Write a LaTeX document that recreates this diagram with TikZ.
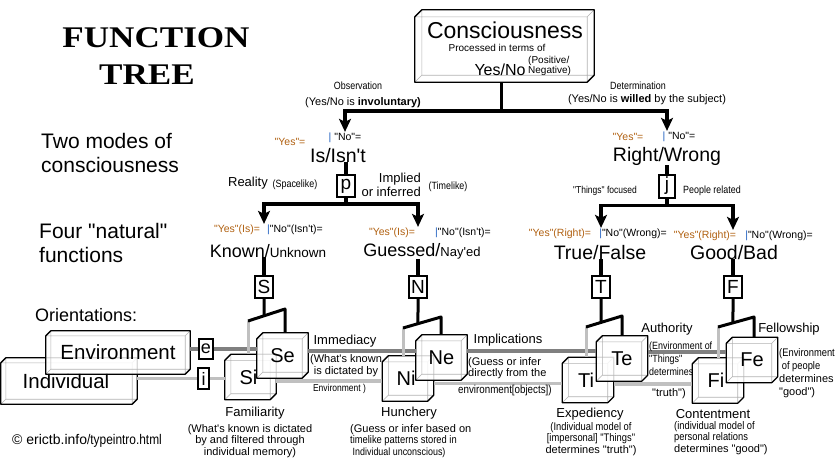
\documentclass[tikz,border=0pt]{standalone}
\usepackage{fontspec}
\setmainfont{Liberation Sans}[Ligatures=TeXOff]
\newfontfamily\titlefont[FakeStretch=1.17]{Liberation Serif}
\newfontfamily\nar[FakeStretch=0.85, Ligatures=TeXOff]{Liberation Sans}
\usepackage{tikz}
\usetikzlibrary{arrows.meta, positioning, calc}
\definecolor{yescol}{RGB}{176,96,16}
\definecolor{barcol}{RGB}{32,96,192}
\definecolor{envgray}{RGB}{128,128,128}
\definecolor{indgray}{RGB}{192,192,192}

\begin{document}
\begin{tikzpicture}[
        x=1pt, y=-1pt,
        treeline/.style={line width=3.5pt},
        arrow/.style={line width=3.5pt, -{Stealth[length=13pt, width=12pt, inset=3pt]}},
        fork/.style={line width=3pt, line join=round},
        lowfork/.style={line width=3pt, indgray},
        envline/.style={line width=3.5pt, envgray},
        indline/.style={line width=3.5pt, indgray},
        letter/.style={rectangle, draw, line width=2pt, fill=white, minimum width=18pt, minimum height=22pt, inner sep=0pt, font=\fontsize{19}{19}\selectfont},
        orient/.style={rectangle, draw, line width=1.2pt, fill=white, minimum width=14pt, minimum height=20pt, inner sep=0pt, font=\fontsize{18}{18}\selectfont},
        word/.style={inner sep=0pt, anchor=base, font=\fontsize{19.5}{19.5}\selectfont},
        yeslab/.style={inner sep=1pt, text=yescol, font=\fontsize{10.5}{10.5}\selectfont},
        nolab/.style={inner sep=1pt, font=\fontsize{10.5}{10.5}\selectfont},
        head/.style={inner sep=0pt, anchor=north west, align=left, font=\fontsize{21}{24}\selectfont},
        fname/.style={inner sep=0pt, font=\fontsize{13}{13}\selectfont},
        note/.style={inner sep=0pt, align=center, font=\fontsize{11}{11.5}\selectfont},
        small/.style={inner sep=0pt, font=\nar\fontsize{10.5}{10.5}\selectfont},
        cube/.style={inner sep=0pt, minimum width=51pt, minimum height=45pt, font=\fontsize{20}{20}\selectfont,
            append after command={\pgfextra{\let\cubenm\tikzlastnode\pgfinterruptpath
                \fill[white, fill opacity=0.85] (\cubenm.south west) -- ([yshift=-#1pt]\cubenm.north west) -- ([xshift=#1pt]\cubenm.north west) -- (\cubenm.north east) -- ([yshift=#1pt]\cubenm.south east) -- ([xshift=-#1pt]\cubenm.south east) -- cycle;
                \draw[black!30, line width=0.6pt] ([yshift=-#1pt]\cubenm.north west) -- ([shift={(-#1pt,-#1pt)}]\cubenm.north east) -- ([xshift=-#1pt]\cubenm.south east)
                    ([shift={(-#1pt,-#1pt)}]\cubenm.north east) -- (\cubenm.north east)
                    ([xshift=#1pt]\cubenm.north west) -- ([shift={(#1pt,#1pt)}]\cubenm.south west) -- ([yshift=#1pt]\cubenm.south east)
                    (\cubenm.south west) -- ([shift={(#1pt,#1pt)}]\cubenm.south west);
                \draw[line width=1.3pt, line join=round] (\cubenm.south west) -- ([yshift=-#1pt]\cubenm.north west) -- ([xshift=#1pt]\cubenm.north west) -- (\cubenm.north east) -- ([yshift=#1pt]\cubenm.south east) -- ([xshift=-#1pt]\cubenm.south east) -- cycle;
                \endpgfinterruptpath}}}
    ]
        \useasboundingbox (0,0) rectangle (837,464);

        \node[inner sep=0pt, font=\titlefont\bfseries\fontsize{30}{30}\selectfont] (function) at (156,38) {FUNCTION};
        \node[inner sep=0pt, font=\titlefont\bfseries\fontsize{30}{30}\selectfont] (treetitle) at (147,75) {TREE};
        \node[head] (twomodes) at (41,133) {Two modes of\\consciousness};
        \node[head] (fourfun) at (39,223) {Four "natural"\\functions};
        \node[head, font=\fontsize{18}{18}\selectfont] (orientations) at (35,308) {Orientations:};

        \node[cube=7, minimum width=179pt, minimum height=72pt] (cons) at (504.5,46) {};
        \node[inner sep=0pt, font=\fontsize{23}{23}\selectfont] (constitle) at (505,30) {Consciousness};
        \node[inner sep=0pt, font=\fontsize{10}{10}\selectfont] (processed) at (497,48) {Processed in terms of};
        \node[inner sep=0pt, font=\fontsize{16}{16}\selectfont] (yesno) at (500,70) {Yes/No};
        \node[inner sep=0pt, align=left, anchor=west, font=\fontsize{10}{10}\selectfont] (posneg) at (528,66) {(Positive/\\Negative)};

        \node[small] (observation) at (358,86) {Observation};
        \node[inner sep=0pt, font=\fontsize{11}{11}\selectfont] (involuntary) at (363,103) {(Yes/No is \textbf{involuntary)}};
        \node[small] (determination) at (638,86) {Determination};
        \node[inner sep=0pt, font=\fontsize{11}{11}\selectfont] (willed) at (647,100) {(Yes/No is \textbf{willed} by the subject)};

        \node[yeslab] (isyes) at (290,142) {"Yes"=};
        \node[nolab] (isno) at (345,138) {\textcolor{barcol}{|} "No"=};
        \node[word] (isnt) at (338,162) {Is/Isn't};
        \node[yeslab] (rwyes) at (628,137) {"Yes"=};
        \node[nolab] (rwno) at (679,137) {\textcolor{barcol}{|} "No"=};
        \node[word] (rw) at (667,161) {Right/Wrong};

        \node[letter] (p) at (346,186) {p};
        \node[letter, minimum width=16pt, minimum height=23pt] (j) at (667,186) {j};
        \node[fname] (reality) at (248,183) {Reality};
        \node[small] (spacelike) at (295,185) {(Spacelike)};
        \node[fname, align=right, anchor=east, font=\fontsize{13}{14}\selectfont] (implied) at (421,185) {Implied\\or inferred};
        \node[small] (timelike) at (448,187) {(Timelike)};
        \node[small, font=\nar\fontsize{10}{10}\selectfont] (thingsfocused) at (605,191) {"Things" focused};
        \node[small] (peoplerelated) at (712,191) {People related};

        \node[yeslab] (knyes) at (237,230) {"Yes"(Is)=};
        \node[nolab] (knno) at (295,230) {\textcolor{barcol}{|}"No"(Isn't)=};
        \node[word, font=\fontsize{18}{18}\selectfont] (known) at (268,257) {Known/{\fontsize{13.5}{13.5}\selectfont Unknown}};
        \node[yeslab] (guyes) at (392,233) {"Yes"(Is)=};
        \node[nolab] (guno) at (463,233) {\textcolor{barcol}{|}"No"(Isn't)=};
        \node[word, font=\fontsize{18}{18}\selectfont] (guessed) at (422,256) {Guessed/{\fontsize{13}{13}\selectfont Nay'ed}};
        \node[yeslab] (tfyes) at (560,234) {"Yes"(Right)=};
        \node[nolab] (tfno) at (633,234) {\textcolor{barcol}{|}"No"(Wrong)=};
        \node[word] (truefalse) at (600,259) {True/False};
        \node[yeslab] (gbyes) at (705,236) {"Yes"(Right)=};
        \node[nolab] (gbno) at (779,236) {\textcolor{barcol}{|}"No"(Wrong)=};
        \node[word] (goodbad) at (734,259) {Good/Bad};

        \node[letter] (S) at (264,287) {S};
        \node[letter] (N) at (418,287) {N};
        \node[letter] (T) at (601,287) {T};
        \node[letter] (F) at (733,287) {F};

        \coordinate (trunk) at ($(cons.south)+(-3,29)$);
        \draw[treeline] (cons.south -| trunk) -- (trunk);
        \draw[arrow] (trunk) -| (isno.north);
        \draw[arrow] (trunk) -| (rw.north |- rwno.north);
        \draw[treeline] (p.north |- isnt.south) -- (p.north);
        \draw[treeline] (j.north |- rw.south) -- (j.north);
        \draw[treeline] (p.south) -- ++(0,6) coordinate (pfork);
        \draw[treeline] (j.south) -- ++(0,7) coordinate (jfork);
        \draw[arrow] (pfork) -| (S.north |- knno.north);
        \draw[arrow] (pfork) -| (N.north |- guno.north);
        \draw[arrow] (jfork) -| (T.north |- tfno.north);
        \draw[arrow] (jfork) -| (F.north |- gbno.north);
        \foreach \f/\w in {S/known, N/guessed, T/truefalse, F/goodbad}
            \draw[treeline] (\f.north |- \w.south) -- (\f.north);

        \node[cube=5, minimum width=136pt, minimum height=46pt, font=\fontsize{20.5}{20.5}\selectfont] (individual) at (69,381) {Individual\kern6pt};
        \node[cube=5, minimum width=144pt, minimum height=43pt, font=\fontsize{20.5}{20.5}\selectfont] (environment) at (118,352.5) {Environment};
        \node[orient] (e) at (206,349) {e};
        \node[orient, minimum width=11pt, minimum height=21pt] (i) at (203.5,378.5) {i};

        \node[cube=6] (Si) at (250.5,377) {Si\kern4pt};
        \node[cube=6] (Se) at (282.5,355.5) {Se};
        \node[cube=6] (Ni) at (408,378.5) {Ni\kern4pt};
        \node[cube=6] (Ne) at (441.5,357.5) {Ne};
        \node[cube=6] (Ti) at (588,380) {Ti\kern4pt};
        \node[cube=6] (Te) at (622,358.5) {Te};
        \node[cube=6] (Fi) at (718,380.5) {Fi\kern4pt};
        \node[cube=6] (Fe) at (752,360) {Fe};

        \draw[envline] (e.west -| environment.east) -- (e.west);
        \draw[envline] (e.east) -- (e.east -| Se.west);
        \draw[indline] (i.west -| individual.east) -- (i.west);
        \draw[indline] (i.east) -- (i.east -| Si.west);
        \foreach \from/\to/\dy/\sty in {Se/Ne/4.5/envline, Ne/Te/6.5/envline, Te/Fe/6.5/envline, Si/Ni/-4/indline, Ni/Ti/-5/indline, Ti/Fi/-4/indline}
            \draw[\sty] ([yshift=\dy pt]\from.east) coordinate (link) -- (link -| \to.west);

        \foreach \f/\ax/\ay/\bx/\by in {S/248/321/285/309, N/403/328/441/317, T/586/327/622/316, F/718/327/754/317}
            {\coordinate (\f-a) at (\ax,\ay); \coordinate (\f-b) at (\bx,\by);}
        \foreach \f/\up/\lo in {S/Se/Si, N/Ne/Ni, T/Te/Ti, F/Fe/Fi} {
            \draw[lowfork] (\f-a) -- (\f-a |- \lo.north);
            \draw[fork] (\f.south) -- (intersection of \f.north--\f.south and \f-a--\f-b);
            \draw[fork] (\f-a) -- (\f-b) -- (\f-b |- \up.north);
        }

        \node[fname] (immediacy) at (345,341) {Immediacy};
        \node[note] (immnote) at (346,365.5) {(What's known\\is dictated by};
        \node[small, font=\nar\fontsize{10}{10}\selectfont] (immnote2) at (339.5,388.5) {Environment )};
        \node[fname] (familiarity) at (255,413) {Familiarity};
        \node[note] (famnote) at (250,441) {(What's known is dictated\\by and filtered through\\individual memory)};
        \node[fname] (hunchery) at (409,413) {Hunchery};
        \node[note, align=left, anchor=west] (hunnote) at (350,441) {(Guess or infer based on\\{\nar timelike patterns stored in}\\{\nar\fontsize{10.5}{11.5}\selectfont\ Individual unconscious)}};
        \node[fname] (implications) at (508,340) {Implications};
        \node[note, align=left, anchor=west] (impnote) at (468,368) {(Guess or infer\\directly from the};
        \node[small, anchor=west, font=\nar\fontsize{11.5}{11.5}\selectfont] (impnote2) at (458,391) {environment[objects])};
        \node[fname] (authority) at (667,329) {Authority};
        \node[small, align=left, anchor=west, font=\nar\fontsize{10.5}{13}\selectfont] (authnote) at (649,359) {(Environment of\\"Things"\\determines};
        \node[inner sep=0pt, anchor=west, font=\fontsize{11}{11}\selectfont] (authnote2) at (652,394) {"truth")};
        \node[fname] (fellowship) at (789,329) {Fellowship};
        \node[inner sep=0pt, align=left, anchor=west, font=\fontsize{11}{13}\selectfont] (fellnote) at (779,373.5) {{\nar (Environment}\\{\nar\ of people}\\determines\\"good")};
        \node[fname] (expediency) at (590,414) {Expediency};
        \node[note] (expnote) at (591,439) {{\nar (Individual model of}\\{\nar [impersonal] "Things"}\\determines "truth")};
        \node[fname] (contentment) at (713,414) {Contentment};
        \node[note, align=left, anchor=west] (contnote) at (674,438) {{\nar (individual model of}\\{\nar personal relations}\\determines "good")};

        \node[inner sep=0pt, anchor=west, font=\fontsize{14}{14}\selectfont] (credit) at (12,441) {© erictb.info{\nar /typeintro.html}};
    \end{tikzpicture}
\end{document}
